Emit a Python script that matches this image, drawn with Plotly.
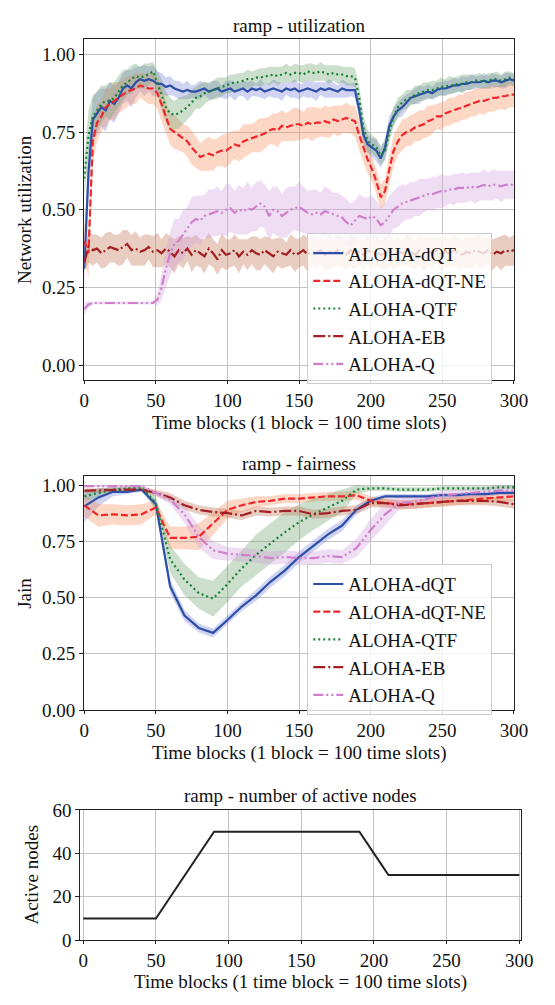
import plotly.graph_objects as go

# ---------------- utilization data (every 3 time blocks) ----------------
t_util = list(range(0, 301, 3))

util_dqt = [0.31,0.62,0.79,0.81,0.83,0.82,0.85,0.84,0.86,0.89,
            0.90,0.89,0.91,0.92,0.915,0.92,0.915,0.905,0.905,0.895,
            0.90,0.89,0.885,0.88,0.885,0.88,0.88,0.885,0.89,0.88,
            0.885,0.89,0.88,0.885,0.89,0.88,0.885,0.89,0.88,0.89,
            0.885,0.89,0.88,0.885,0.89,0.885,0.88,0.89,0.885,0.89,
            0.88,0.885,0.89,0.885,0.88,0.89,0.885,0.89,0.885,0.88,
            0.89,0.885,0.885,0.885,0.82,0.74,0.71,0.70,0.69,0.665,
            0.70,0.77,0.80,0.82,0.83,0.845,0.86,0.865,0.87,0.875,
            0.88,0.875,0.885,0.89,0.89,0.895,0.90,0.90,0.905,0.905,
            0.91,0.91,0.91,0.915,0.91,0.915,0.915,0.91,0.915,0.92,
            0.915]
util_dqt_sd = [0.05,0.09,0.07,0.07,0.06,0.07,0.06,0.06,0.05,0.05,
               0.05,0.06,0.05,0.04,0.05,0.04,0.05,0.04,0.035,0.03,
               0.03,0.025,0.03,0.025,0.03,0.02,0.025,0.03,0.02,0.025,
               0.03,0.025,0.02,0.03,0.025,0.03,0.02,0.025,0.03,0.025,
               0.02,0.03,0.025,0.02,0.03,0.025,0.03,0.02,0.025,0.03,
               0.025,0.02,0.03,0.025,0.03,0.02,0.025,0.03,0.025,0.02,
               0.03,0.025,0.02,0.025,0.03,0.035,0.03,0.03,0.035,0.03,
               0.035,0.03,0.03,0.025,0.03,0.025,0.02,0.025,0.03,0.02,
               0.025,0.02,0.025,0.02,0.025,0.02,0.025,0.02,0.025,0.02,
               0.025,0.02,0.02,0.025,0.02,0.025,0.02,0.02,0.025,0.02,
               0.02]

util_ne = [0.40,0.36,0.72,0.78,0.80,0.83,0.84,0.85,0.86,0.87,
           0.88,0.885,0.89,0.90,0.895,0.89,0.89,0.875,0.84,0.80,
           0.76,0.75,0.74,0.73,0.72,0.70,0.685,0.67,0.675,0.68,
           0.675,0.685,0.69,0.69,0.70,0.71,0.705,0.72,0.725,0.73,
           0.735,0.74,0.745,0.755,0.76,0.755,0.77,0.765,0.77,0.775,
           0.775,0.77,0.78,0.775,0.78,0.78,0.785,0.78,0.79,0.785,
           0.79,0.795,0.79,0.785,0.74,0.70,0.66,0.63,0.59,0.54,
           0.56,0.63,0.69,0.72,0.74,0.75,0.755,0.765,0.77,0.775,
           0.785,0.79,0.80,0.80,0.81,0.815,0.82,0.825,0.83,0.835,
           0.84,0.845,0.85,0.85,0.855,0.86,0.86,0.865,0.865,0.87,
           0.87]
util_ne_sd = [0.06,0.08,0.07,0.06,0.05,0.06,0.05,0.06,0.05,0.05,
              0.05,0.045,0.05,0.04,0.045,0.05,0.05,0.05,0.055,0.05,
              0.05,0.055,0.05,0.045,0.05,0.055,0.05,0.045,0.05,0.055,
              0.05,0.045,0.05,0.055,0.05,0.045,0.05,0.055,0.05,0.045,
              0.05,0.055,0.05,0.045,0.05,0.055,0.05,0.045,0.05,0.055,
              0.05,0.045,0.05,0.055,0.05,0.045,0.05,0.05,0.045,0.05,
              0.045,0.05,0.045,0.05,0.05,0.05,0.045,0.04,0.04,0.04,
              0.04,0.045,0.05,0.045,0.05,0.045,0.05,0.045,0.05,0.045,
              0.05,0.045,0.04,0.045,0.04,0.045,0.04,0.045,0.04,0.045,
              0.04,0.045,0.04,0.045,0.04,0.045,0.04,0.04,0.045,0.04,
              0.04]

util_qtf = [0.60,0.74,0.80,0.82,0.84,0.85,0.85,0.86,0.88,0.90,
            0.91,0.92,0.93,0.925,0.93,0.935,0.945,0.91,0.87,0.83,
            0.81,0.805,0.81,0.82,0.83,0.845,0.86,0.865,0.875,0.88,
            0.885,0.89,0.895,0.90,0.905,0.91,0.91,0.915,0.92,0.92,
            0.925,0.925,0.93,0.93,0.935,0.93,0.935,0.94,0.935,0.94,
            0.94,0.935,0.945,0.94,0.94,0.945,0.94,0.935,0.94,0.935,
            0.935,0.93,0.93,0.925,0.86,0.76,0.72,0.71,0.70,0.675,
            0.69,0.75,0.80,0.83,0.845,0.855,0.86,0.87,0.875,0.88,
            0.885,0.885,0.89,0.895,0.895,0.90,0.90,0.905,0.905,0.91,
            0.91,0.915,0.915,0.91,0.915,0.92,0.92,0.915,0.92,0.925,
            0.92]
util_qtf_sd = [0.06,0.08,0.07,0.06,0.06,0.05,0.06,0.05,0.05,0.05,
               0.04,0.045,0.04,0.035,0.04,0.035,0.03,0.04,0.05,0.05,
               0.05,0.045,0.05,0.045,0.04,0.04,0.035,0.04,0.035,0.03,
               0.03,0.035,0.03,0.025,0.03,0.025,0.03,0.025,0.03,0.025,
               0.025,0.03,0.025,0.03,0.025,0.03,0.025,0.03,0.025,0.03,
               0.025,0.03,0.025,0.03,0.025,0.03,0.025,0.03,0.025,0.03,
               0.025,0.03,0.03,0.03,0.04,0.04,0.035,0.03,0.03,0.03,
               0.03,0.035,0.03,0.03,0.025,0.03,0.025,0.03,0.025,0.03,
               0.025,0.03,0.025,0.03,0.025,0.03,0.025,0.025,0.03,0.025,
               0.025,0.02,0.025,0.02,0.025,0.02,0.025,0.02,0.025,0.02,
               0.02]

util_eb = [0.33,0.38,0.37,0.375,0.36,0.37,0.38,0.375,0.37,0.38,
           0.39,0.37,0.375,0.365,0.37,0.38,0.365,0.37,0.36,0.375,
           0.365,0.35,0.37,0.36,0.375,0.355,0.37,0.36,0.35,0.375,
           0.36,0.34,0.37,0.355,0.36,0.37,0.35,0.365,0.355,0.37,
           0.36,0.355,0.37,0.36,0.35,0.365,0.36,0.355,0.37,0.355,
           0.36,0.37,0.355,0.365,0.36,0.37,0.355,0.365,0.36,0.37,
           0.365,0.355,0.37,0.36,0.365,0.355,0.37,0.36,0.365,0.355,
           0.36,0.37,0.355,0.365,0.36,0.37,0.365,0.355,0.37,0.36,
           0.365,0.36,0.37,0.355,0.365,0.36,0.37,0.36,0.355,0.365,
           0.36,0.37,0.365,0.36,0.37,0.355,0.365,0.36,0.37,0.365,
           0.37]
util_eb_sd = [0.03,0.05,0.05,0.045,0.05,0.055,0.05,0.045,0.05,0.055,
              0.045,0.05,0.055,0.045,0.05,0.04,0.05,0.055,0.045,0.05,
              0.05,0.055,0.045,0.05,0.04,0.055,0.05,0.045,0.055,0.05,
              0.045,0.05,0.055,0.05,0.045,0.05,0.055,0.04,0.05,0.045,
              0.055,0.05,0.045,0.05,0.055,0.045,0.05,0.04,0.05,0.055,
              0.045,0.05,0.055,0.045,0.05,0.04,0.05,0.055,0.045,0.05,
              0.05,0.045,0.055,0.05,0.045,0.05,0.04,0.055,0.05,0.045,
              0.05,0.055,0.045,0.05,0.04,0.05,0.055,0.045,0.05,0.055,
              0.045,0.05,0.04,0.055,0.05,0.045,0.05,0.055,0.045,0.05,
              0.05,0.045,0.055,0.05,0.04,0.05,0.045,0.055,0.05,0.045,
              0.05]

util_q = [0.18,0.195,0.20,0.20,0.20,0.20,0.20,0.20,0.20,0.20,
          0.20,0.20,0.20,0.20,0.20,0.20,0.20,0.21,0.25,0.31,
          0.36,0.39,0.40,0.42,0.44,0.46,0.47,0.465,0.48,0.485,
          0.49,0.495,0.49,0.50,0.505,0.49,0.50,0.495,0.505,0.50,
          0.51,0.52,0.51,0.48,0.50,0.495,0.48,0.49,0.50,0.505,
          0.51,0.50,0.49,0.485,0.49,0.485,0.495,0.49,0.485,0.48,
          0.475,0.46,0.45,0.465,0.48,0.475,0.47,0.48,0.47,0.45,
          0.46,0.48,0.50,0.51,0.52,0.525,0.53,0.535,0.54,0.545,
          0.55,0.55,0.555,0.56,0.56,0.565,0.565,0.57,0.57,0.57,
          0.575,0.57,0.575,0.58,0.575,0.58,0.58,0.575,0.58,0.58,
          0.58]
util_q_sd = [0.02,0.01,0.005,0.005,0.005,0.005,0.005,0.005,0.005,0.005,
             0.005,0.005,0.005,0.005,0.005,0.005,0.005,0.02,0.04,0.06,
             0.07,0.08,0.07,0.08,0.07,0.08,0.075,0.08,0.07,0.08,
             0.075,0.08,0.07,0.085,0.075,0.07,0.08,0.075,0.085,0.07,
             0.08,0.075,0.07,0.08,0.075,0.08,0.07,0.08,0.075,0.07,
             0.08,0.075,0.07,0.08,0.075,0.07,0.08,0.075,0.07,0.075,
             0.07,0.075,0.07,0.065,0.07,0.065,0.07,0.065,0.06,0.06,
             0.06,0.065,0.06,0.065,0.06,0.055,0.06,0.055,0.06,0.055,
             0.05,0.055,0.05,0.055,0.05,0.045,0.05,0.045,0.05,0.045,
             0.045,0.05,0.045,0.05,0.045,0.05,0.045,0.05,0.045,0.045,
             0.045]

# ---------------- fairness data (every 10 time blocks) ----------------
t_fair = list(range(0, 301, 10))
fair_dqt = [0.905,0.945,0.97,0.97,0.98,0.915,0.55,0.42,0.365,0.343,0.40,0.46,0.51,0.57,0.62,0.68,
            0.73,0.78,0.82,0.89,0.93,0.95,0.95,0.95,0.95,0.955,0.955,0.96,0.96,0.965,0.965]
fair_dqt_sd = [0.07,0.04,0.02,0.01,0.01,0.02,0.03,0.025,0.02,0.02,0.02,0.02,0.025,0.025,0.025,0.025,
               0.025,0.025,0.025,0.02,0.015,0.01,0.01,0.01,0.01,0.01,0.01,0.01,0.01,0.01,0.01]
fair_ne = [0.91,0.865,0.87,0.865,0.87,0.90,0.765,0.765,0.77,0.83,0.89,0.91,0.925,0.93,0.94,0.94,
           0.945,0.95,0.95,0.955,0.93,0.92,0.915,0.915,0.92,0.925,0.93,0.935,0.94,0.945,0.95]
fair_ne_sd = [0.05,0.05,0.045,0.045,0.045,0.03,0.05,0.05,0.06,0.05,0.04,0.03,0.025,0.02,0.02,0.02,
              0.02,0.02,0.02,0.02,0.02,0.02,0.02,0.02,0.02,0.02,0.02,0.02,0.02,0.02,0.02]
fair_qtf = [0.95,0.965,0.98,0.985,0.99,0.92,0.67,0.58,0.52,0.495,0.56,0.63,0.69,0.74,0.79,0.835,
            0.87,0.90,0.93,0.98,0.985,0.985,0.98,0.98,0.98,0.985,0.985,0.985,0.985,0.99,0.99]
fair_qtf_sd = [0.02,0.02,0.01,0.01,0.01,0.03,0.06,0.07,0.07,0.08,0.08,0.08,0.09,0.09,0.09,0.08,
               0.07,0.06,0.05,0.02,0.01,0.01,0.01,0.01,0.01,0.01,0.01,0.01,0.01,0.01,0.01]
fair_eb = [0.975,0.975,0.978,0.98,0.98,0.965,0.945,0.91,0.89,0.88,0.875,0.865,0.885,0.88,0.885,0.885,
           0.87,0.875,0.885,0.89,0.92,0.92,0.91,0.915,0.92,0.925,0.93,0.93,0.93,0.925,0.915]
fair_eb_sd = [0.01,0.01,0.01,0.01,0.01,0.015,0.02,0.02,0.02,0.02,0.02,0.02,0.02,0.02,0.02,0.02,
              0.02,0.02,0.02,0.02,0.02,0.02,0.02,0.02,0.02,0.02,0.02,0.02,0.02,0.02,0.02]
fair_q = [0.995,0.995,0.995,0.995,0.995,0.965,0.935,0.87,0.77,0.71,0.695,0.69,0.685,0.675,0.68,0.675,
          0.675,0.685,0.68,0.72,0.80,0.87,0.92,0.925,0.94,0.955,0.96,0.965,0.97,0.975,0.975]
fair_q_sd = [0.005,0.005,0.005,0.005,0.005,0.01,0.02,0.04,0.05,0.04,0.03,0.03,0.03,0.03,0.03,0.03,
             0.03,0.03,0.03,0.04,0.05,0.05,0.03,0.02,0.02,0.02,0.02,0.02,0.02,0.02,0.02]

# ---------------- active nodes ----------------
t_nodes = list(range(0, 301, 10))
active_nodes = [10,10,10,10,10,10,20,30,40,50,50,50,50,50,50,50,
                50,50,50,50,40,30,30,30,30,30,30,30,30,30,30]

names = ["ALOHA-dQT", "ALOHA-dQT-NE", "ALOHA-QTF", "ALOHA-EB", "ALOHA-Q"]
line_colors = ["#2c4fa8", "#f0252a", "#178236", "#a31f24", "#cf7fcc"]
band_colors = ["rgba(100,110,210,0.30)", "rgba(250,140,90,0.35)", "rgba(110,160,110,0.35)",
               "rgba(200,130,100,0.40)", "rgba(210,160,220,0.35)"]
dashes = ["solid", "7px,3px", "2px,3px", "12px,3px,2px,3px", "10px,3px,2px,3px,2px,3px"]

util_means = [util_dqt, util_ne, util_qtf, util_eb, util_q]
util_sds = [util_dqt_sd, util_ne_sd, util_qtf_sd, util_eb_sd, util_q_sd]
fair_means = [fair_dqt, fair_ne, fair_qtf, fair_eb, fair_q]
fair_sds = [fair_dqt_sd, fair_ne_sd, fair_qtf_sd, fair_eb_sd, fair_q_sd]

FONT = "Liberation Serif, Times New Roman, serif"
FS = 19
W, H = 555, 1005

fig = go.Figure()


def add_panel(t, means, sds, xa, ya, legend_name):
    for i in range(5):
        lo = [m - s for m, s in zip(means[i], sds[i])]
        hi = [m + s for m, s in zip(means[i], sds[i])]
        fig.add_trace(go.Scatter(x=t, y=lo, mode="lines", line=dict(width=0),
                                 showlegend=False, hoverinfo="skip", xaxis=xa, yaxis=ya))
        fig.add_trace(go.Scatter(x=t, y=hi, mode="lines", line=dict(width=0),
                                 fill="tonexty", fillcolor=band_colors[i],
                                 showlegend=False, hoverinfo="skip", xaxis=xa, yaxis=ya))
    for i in range(5):
        fig.add_trace(go.Scatter(x=t, y=means[i], mode="lines", name=names[i],
                                 line=dict(color=line_colors[i], width=2.2, dash=dashes[i]),
                                 xaxis=xa, yaxis=ya, legend=legend_name))


add_panel(t_util, util_means, util_sds, "x", "y", "legend")
add_panel(t_fair, fair_means, fair_sds, "x2", "y2", "legend2")
fig.add_trace(go.Scatter(x=t_nodes, y=active_nodes, mode="lines", showlegend=False,
                         line=dict(color="#222222", width=2), xaxis="x3", yaxis="y3"))


def px_x(v):
    return v / W


def px_y(v):
    return 1 - v / H


axis_common = dict(showgrid=True, gridcolor="#c4c4c4", gridwidth=1, showline=True,
                   linecolor="#222222", linewidth=1.3, mirror=True, ticks="outside",
                   tickcolor="#222222", tickfont=dict(family=FONT, size=FS, color="#111"),
                   zeroline=False)
xax = dict(ticklen=3, tickvals=[0, 50, 100, 150, 200, 250, 300], **axis_common)
yax = dict(ticklen=4, **axis_common)

legend_common = dict(xanchor="left", yanchor="top", traceorder="normal",
                     bgcolor="rgba(255,255,255,0.8)", bordercolor="#cccccc", borderwidth=1,
                     font=dict(family=FONT, size=FS, color="#111"))

fig.update_layout(
    width=W, height=H, margin=dict(l=0, r=0, t=0, b=0),
    paper_bgcolor="white", plot_bgcolor="white",
    font=dict(family=FONT, size=FS, color="#111"),
    xaxis=dict(domain=[px_x(82), px_x(527)], range=[0, 300], anchor="y", **xax),
    yaxis=dict(domain=[px_y(378), px_y(30)], range=[-0.048, 1.048], anchor="x",
               tickvals=[0, 0.25, 0.5, 0.75, 1.0], ticktext=["0.00", "0.25", "0.50", "0.75", "1.00"],
               **yax),
    xaxis2=dict(domain=[px_x(82), px_x(527)], range=[0, 300], anchor="y2", **xax),
    yaxis2=dict(domain=[px_y(715), px_y(476)], range=[0, 1.04], anchor="x2",
                tickvals=[0, 0.25, 0.5, 0.75, 1.0], ticktext=["0.00", "0.25", "0.50", "0.75", "1.00"],
                **yax),
    xaxis3=dict(domain=[px_x(78), px_x(534)], range=[-2, 301], anchor="y3", **xax),
    yaxis3=dict(domain=[px_y(950), px_y(817)], range=[0, 60], anchor="x3",
                tickvals=[0, 20, 40, 60], **yax),
    legend=dict(x=px_x(313), y=px_y(228), **legend_common),
    legend2=dict(x=px_x(313), y=px_y(566), **legend_common),
    showlegend=True,
)

ann = []


def text(x, y, s, angle=0):
    ann.append(dict(x=px_x(x), y=px_y(y), xref="paper", yref="paper", text=s, showarrow=False,
                    xanchor="center", yanchor="middle", textangle=angle, borderpad=0,
                    font=dict(family=FONT, size=FS, color="#111")))


text(304.5, 16, "ramp - utilization")
text(304.5, 422, "Time blocks (1 block = 100 time slots)")
text(20, 204, "Network utilization", -90)
text(304.5, 463, "ramp - fairness")
text(304.5, 759, "Time blocks (1 block = 100 time slots)")
text(20, 596, "Jain", -90)
text(306, 802, "ramp - number of active nodes")
text(306, 993, "Time blocks (1 time block = 100 time slots)")
text(28, 883, "Active nodes", -90)
fig.update_layout(annotations=ann)

fig.write_html("out.html")
